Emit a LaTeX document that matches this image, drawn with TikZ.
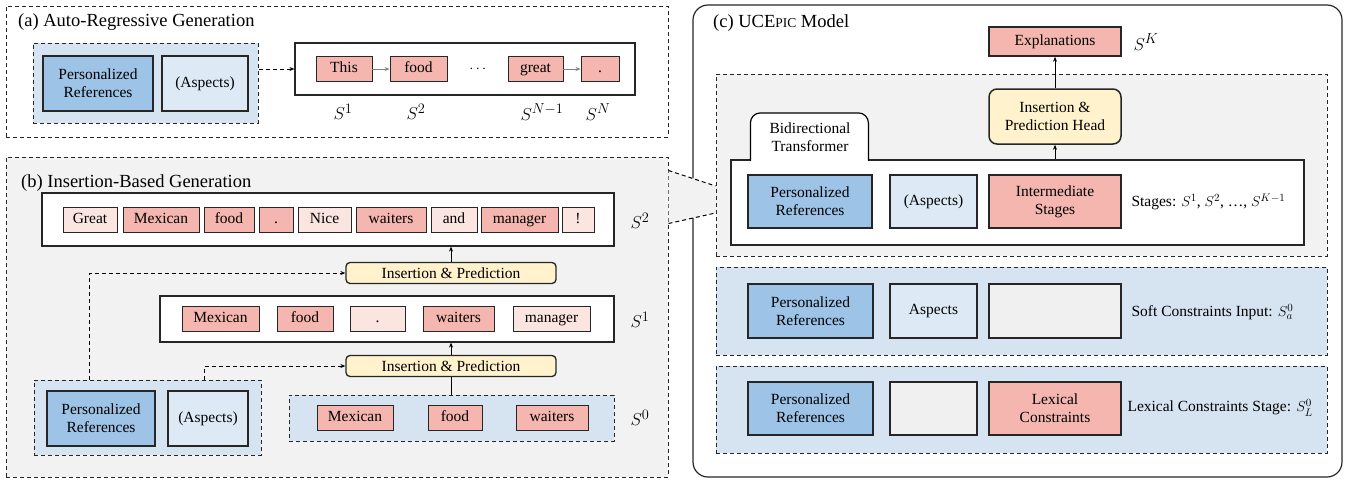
\documentclass[tikz,border=0pt]{standalone}
\usepackage{amsmath}
\usepackage{fontspec}
\setmainfont{Liberation Serif}
\usetikzlibrary{arrows.meta}
\definecolor{pbg}{HTML}{F2F2F2}
\definecolor{grpblue}{HTML}{D6E4F1}
\definecolor{refblue}{HTML}{9DC3E6}
\definecolor{aspblue}{HTML}{DDEAF6}
\definecolor{tokred}{HTML}{F4B6AE}
\definecolor{toklight}{HTML}{FBE5E1}
\definecolor{ipyellow}{HTML}{FFF2CC}
\definecolor{emptygray}{HTML}{F0F0F0}
\tikzset{
    panel/.style={draw=black!85, line width=1pt, dash pattern=on 4pt off 3pt},
    grp/.style={panel, fill=grpblue},
    seqbox/.style={draw=black!85, line width=1.2pt, fill=white},
    tok/.style={draw=black!85, line width=0.9pt, fill=tokred, inner sep=0pt,
      minimum height=25pt, text height=11pt, text depth=3.5pt},
    toklt/.style={tok, fill=toklight},
    refbox/.style={draw=black!85, line width=2pt, fill=refblue, inner sep=0pt, align=center},
    aspbox/.style={refbox, fill=aspblue},
    bigbox/.style={draw=black!85, line width=1.5pt, inner sep=0pt, align=center},
    ipbox/.style={draw=black!85, line width=1.3pt, fill=ipyellow, rounded corners=4pt, inner sep=0pt},
    arr/.style={-{Stealth[length=5pt,width=4pt]}, line width=0.9pt},
    link/.style={arr, dash pattern=on 4pt off 3pt},
    dashline/.style={line width=1pt, dash pattern=on 4pt off 3pt},
    ptitle/.style={anchor=west, inner sep=0pt, font=\fontsize{18.5}{20}\selectfont},
    slabel/.style={font=\fontsize{19}{21}\selectfont}
}

\begin{document}
\begin{tikzpicture}[x=1pt, y=-1pt, font=\fontsize{15.5}{18}\selectfont]
    \useasboundingbox (0,0) rectangle (1352,480);
    \begin{scope}
      \node [panel, minimum width=662pt, minimum height=131pt] (pa) at (337,71.5) {};
      \node [ptitle] (ta) at (18,22) {(a) Auto-Regressive Generation};
      \node [grp, minimum width=225pt, minimum height=80pt] (ga) at (145.5,83) {};
      \node [refbox, minimum width=110pt, minimum height=55pt] (refa) at (98,83.5) {Personalized\\References};
      \node [aspbox, minimum width=86pt, minimum height=55pt] (aspa) at (205,83.5) {(Aspects)};
      \node [seqbox, minimum width=340pt, minimum height=52pt] (seqa) at (465,69) {};
      \node [tok, minimum width=56pt] (wa1) at (344,69) {This};
      \node [tok, minimum width=57pt] (wa2) at (418.5,69) {food};
      \node (dotsa) at (479,69) {$\cdots$};
      \node [tok, minimum width=55pt] (wa3) at (535.5,69) {great};
      \node [tok, minimum width=38pt] (wa4) at (600,69) {.};
      \draw [arr, draw=gray] (wa1) -- (wa2);
      \draw [arr, draw=gray] (wa3) -- (wa4);
      \draw [link] (ga.east |- seqa.west) -- (seqa.west);
      \node [slabel] (sa1) at (343,112) {$S^1$};
      \node [slabel] (sa2) at (416,112) {$S^2$};
      \node [slabel] (sa3) at (542,112) {$S^{N-1}$};
      \node [slabel] (sa4) at (598,112) {$S^N$};
    \end{scope}
    \begin{scope}
      \node [panel, fill=pbg, minimum width=662pt, minimum height=320pt] (pb) at (337,317) {};
      \node [ptitle] (tb) at (21,183) {(b) Insertion-Based Generation};
      \node [seqbox, minimum width=572pt, minimum height=53pt] (seq2) at (328,219.5) {};
      \node [toklt, minimum width=54pt] (u1) at (90,219.5) {Great};
      \node [tok, minimum width=76pt] (u2) at (161,219.5) {Mexican};
      \node [tok, minimum width=50pt] (u3) at (229,219.5) {food};
      \node [tok, minimum width=34pt] (u4) at (276,219.5) {.};
      \node [toklt, minimum width=53pt] (u5) at (324.5,219.5) {Nice};
      \node [tok, minimum width=70pt] (u6) at (391,219.5) {waiters};
      \node [toklt, minimum width=46pt] (u7) at (454,219.5) {and};
      \node [tok, minimum width=77pt] (u8) at (519.5,219.5) {manager};
      \node [toklt, minimum width=32pt] (u9) at (578,219.5) {!};
      \node [slabel] (sb2) at (640,221) {$S^2$};
      \node [ipbox, minimum width=210pt, minimum height=21pt] (ip2) at (451,273) {Insertion \& Prediction};
      \node [seqbox, minimum width=454pt, minimum height=46pt] (seq1) at (387,319) {};
      \node [tok, minimum width=77pt] (v1) at (220.5,319) {Mexican};
      \node [tok, minimum width=56pt] (v2) at (305,319) {food};
      \node [toklt, minimum width=55pt] (v3) at (377.5,319) {.};
      \node [tok, minimum width=71pt] (v4) at (458.5,319) {waiters};
      \node [toklt, minimum width=77pt] (v5) at (551.5,319) {manager};
      \node [slabel] (sb1) at (640,320) {$S^1$};
      \node [ipbox, minimum width=210pt, minimum height=21pt] (ip1) at (451,366) {Insertion \& Prediction};
      \node [grp, minimum width=325pt, minimum height=46pt] (seq0) at (451.5,418) {};
      \node [tok, minimum width=76pt] (x1) at (355,417.5) {Mexican};
      \node [tok, minimum width=54pt] (x2) at (455,417.5) {food};
      \node [tok, minimum width=72pt] (x3) at (552,417.5) {waiters};
      \node [slabel] (sb0) at (640,418) {$S^0$};
      \node [grp, minimum width=227pt, minimum height=75pt] (gb) at (147.5,417.5) {};
      \node [refbox, minimum width=108pt, minimum height=55pt] (refb) at (101,418.5) {Personalized\\References};
      \node [aspbox, minimum width=80pt, minimum height=55pt] (aspb) at (208,418.5) {(Aspects)};
      \draw [arr] (ip2.north) -- (ip2.north |- seq2.south);
      \draw [arr] (ip1.north) -- (ip1.north |- seq1.south);
      \draw [line width=0.9pt] (ip1.south |- seq0.north) -- (ip1.south);
      \draw [link] ([xshift=-58.5pt]gb.north) |- (ip2.west);
      \draw [link] ([xshift=56.5pt]gb.north) |- (ip1.west);
    \end{scope}
    \begin{scope}
      \node [draw=black!85, line width=1.2pt, rounded corners=15pt, minimum width=649pt, minimum height=472pt] (pc) at (1017.5,241) {};
      \node [ptitle] (tc) at (713,23) {(c) UCE{\fontsize{13.5}{14}\selectfont PIC} Model};
      \fill [pbg] ([yshift=-14pt]pb.north east) -- ([xshift=48pt,yshift=-29pt]pb.north east)
        -- ([xshift=48pt,yshift=-56pt]pb.north east) -- ([yshift=-67pt]pb.north east) -- cycle;
      \node [panel, fill=pbg, minimum width=611pt, minimum height=182pt] (gt) at (1021.5,165) {};
      \draw [dashline] ([yshift=-14pt]pb.north east) -- ([yshift=-21pt]gt.west);
      \draw [dashline] ([yshift=-67pt]pb.north east) -- ([yshift=-48pt]gt.west);
      \node [bigbox, fill=tokred, minimum width=132pt, minimum height=29pt] (expl) at (1055,41.5) {Explanations};
      \node [slabel] (sk) at (1146,42) {$S^K$};
      \node [bigbox, fill=ipyellow, rounded corners=8pt, minimum width=132pt, minimum height=55pt] (head) at (1055,116.5) {Insertion \&\\Prediction Head};
      \node [seqbox, minimum width=573pt, minimum height=85pt] (tr) at (1017.5,202.5) {};
      \draw [line width=1.2pt, fill=white] ([xshift=20pt,yshift=-1.5pt]tr.north west) [rounded corners=10pt]
        -- ++(0,-48) -- ++(118,0) [sharp corners] -- ++(0,48);
      \node [align=center] (tab) at (810,137) {Bidirectional\\Transformer};
      \node [bigbox, fill=refblue, minimum width=124pt, minimum height=53pt] (refc) at (810,201.5) {Personalized\\References};
      \node [bigbox, fill=aspblue, minimum width=87pt, minimum height=53pt] (aspc) at (933.5,201.5) {(Aspects)};
      \node [bigbox, fill=tokred, minimum width=132pt, minimum height=53pt] (inter) at (1055,201.5) {Intermediate\\Stages};
      \node [anchor=west] (stg) at (1128,202) {Stages: $S^1$, $S^2$, \dots, $S^{K-1}$};
      \draw [arr] (head.south |- tr.north) -- (head.south);
      \draw [arr] (head.north) -- (expl.south);
      \node [panel, fill=grpblue, minimum width=611pt, minimum height=88pt] (soft) at (1021.5,311) {};
      \node [bigbox, fill=refblue, minimum width=125pt, minimum height=54pt] (refs) at (810.5,311) {Personalized\\References};
      \node [bigbox, fill=aspblue, minimum width=87pt, minimum height=54pt] (asps) at (933.5,311) {Aspects};
      \node [bigbox, fill=emptygray, minimum width=132pt, minimum height=54pt] (emps) at (1055,311) {};
      \node [anchor=west] (softl) at (1128,312) {Soft Constraints Input: $S_a^0$};
      \node [panel, fill=grpblue, minimum width=611pt, minimum height=87pt] (lex) at (1021.5,409.5) {};
      \node [bigbox, fill=refblue, minimum width=125pt, minimum height=53pt] (refl) at (810.5,408.5) {Personalized\\References};
      \node [bigbox, fill=emptygray, minimum width=87pt, minimum height=53pt] (empl) at (933.5,408.5) {};
      \node [bigbox, fill=tokred, minimum width=132pt, minimum height=53pt] (lexc) at (1055,408.5) {Lexical\\Constraints};
      \node [anchor=west] (lexl) at (1124,408) {Lexical Constraints Stage: $S_L^0$};
    \end{scope}
\end{tikzpicture}
\end{document}
